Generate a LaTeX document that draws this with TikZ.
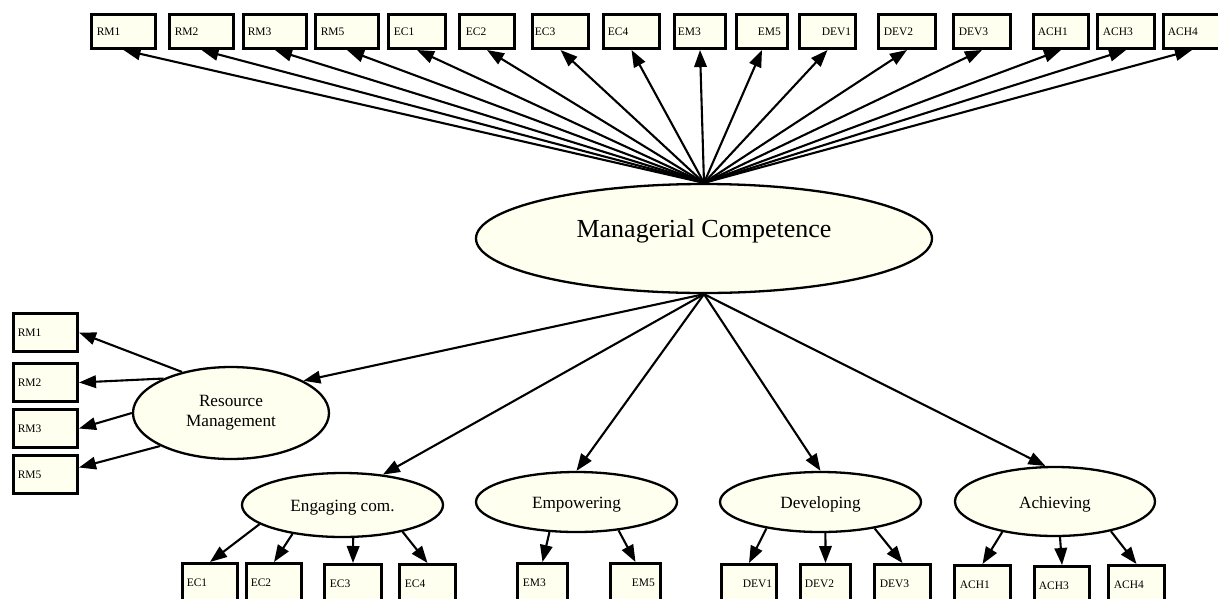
\documentclass[tikz,border=0pt]{standalone}
\usepackage{fontspec}
\setmainfont{Liberation Serif}
\usetikzlibrary{shapes.geometric,arrows.meta,calc}
\definecolor{cream}{RGB}{255,255,240}
\tikzset{
  box/.style={draw=black, line width=2.6pt, fill=cream, inner xsep=0pt, inner ysep=0pt,
    align=left, font=\fontsize{11.5}{13}\selectfont},
  pad/.style={execute at begin node={\hspace*{\dimexpr #1pt-1.5pt\relax}}},
  topbox/.style 2 args={box, text width={#1pt-2.6pt}, minimum height=34.4pt, pad={#2}},
  tallbox/.style 2 args={box, text width={#1pt-2.6pt}, minimum height=38.4pt, pad={#2}},
  ell/.style={ellipse, draw=black, line width=2.3pt, fill=cream, inner sep=0pt, align=center,
    font=\fontsize{17.2}{20}\selectfont},
  low/.style={text height=17.5pt, text depth=3.7pt},
  arr/.style={line width=2.1pt, -{Triangle[length=17pt,width=12.5pt]}}
}
\begin{document}
\begin{tikzpicture}[x=1pt,y=-1pt]
\useasboundingbox (0,0) rectangle (1218,598);
\fill[white] (0,0) rectangle (1218,598);
\clip (0,0) rectangle (1218,598);
% top row
\node[topbox={67}{7}]  (trm1)  at (123.5,31.5) {RM1};
\node[topbox={67}{7}]  (trm2)  at (201.5,31.5) {RM2};
\node[topbox={66}{6}]  (trm3)  at (275,31.5)   {RM3};
\node[topbox={66}{7}]  (trm5)  at (347,31.5)   {RM5};
\node[topbox={60}{7}]  (tec1)  at (417,31.5)   {EC1};
\node[topbox={58}{8}]  (tec2)  at (487,31.5)   {EC2};
\node[topbox={59}{4}]  (tec3)  at (560.5,31.5) {EC3};
\node[topbox={59}{6}]  (tec4)  at (631.5,31.5) {EC4};
\node[topbox={54}{5}]  (tem3)  at (700,31.5)   {EM3};
\node[topbox={54}{23}] (tem5)  at (762,31.5)   {EM5};
\node[topbox={59}{24}] (tdev1) at (827.5,31.5) {DEV1};
\node[topbox={60}{7}]  (tdev2) at (907,31.5)   {DEV2};
\node[topbox={60}{7}]  (tdev3) at (982,31.5)   {DEV3};
\node[topbox={58}{6}]  (tach1) at (1061,31.5)  {ACH1};
\node[topbox={60}{7}]  (tach3) at (1126,31.5)  {ACH3};
\node[topbox={60}{6}]  (tach4) at (1192,31.5)  {ACH4};
% main ellipse
\node[ell, minimum width=456pt, minimum height=109pt, text depth=20.8pt,
  font=\fontsize{26}{30}\selectfont] (mc) at (704,238.5) {Managerial Competence};
% sub ellipses
\node[ell, minimum width=196pt, minimum height=92pt] (rm)  at (231,413)    {Resource\\Management};
\node[ell, low, minimum width=201pt, minimum height=64pt] (eng) at (342.5,505)  {Engaging com.};
\node[ell, low, minimum width=201pt, minimum height=60pt] (emp) at (576.5,502)  {Empowering};
\node[ell, low, minimum width=201pt, minimum height=60pt] (dev) at (820.5,502)  {Developing};
\node[ell, low, minimum width=200pt, minimum height=69pt] (ach) at (1055,501.5) {Achieving};
% left boxes
\node[tallbox={67}{6}] (lrm1) at (45.5,332.5) {RM1};
\node[tallbox={67}{6}] (lrm2) at (45.5,382.5) {RM2};
\node[tallbox={67}{6}] (lrm3) at (45.5,428.5) {RM3};
\node[tallbox={67}{6}] (lrm5) at (45.5,474.5) {RM5};
% bottom boxes
\node[tallbox={58}{6}]  (bec1)  at (210,582.5)   {EC1};
\node[tallbox={58}{6}]  (bec2)  at (274,582.5)   {EC2};
\node[tallbox={60}{7}]  (bec3)  at (353,583.5)   {EC3};
\node[tallbox={59}{7}]  (bec4)  at (427.5,583.5) {EC4};
\node[tallbox={53}{7}]  (bem3)  at (542.5,582.5) {EM3};
\node[tallbox={53}{23}] (bem5)  at (635.5,582.5) {EM5};
\node[tallbox={58}{23}] (bdev1) at (749,583.5)   {DEV1};
\node[tallbox={53}{6}]  (bdev2) at (825.5,583.5) {DEV2};
\node[tallbox={59}{7}]  (bdev3) at (902.5,583.5) {DEV3};
\node[tallbox={59}{7}]  (bach1) at (982.5,584.5) {ACH1};
\node[tallbox={58}{6}]  (bach3) at (1062,585.5)  {ACH3};
\node[tallbox={59}{7}]  (bach4) at (1136.5,584.5) {ACH4};
% arrows to top row
\foreach \n in {trm1,trm2,trm3,trm5,tec1,tec2,tec3,tec4,tem3,tem5,tdev1,tdev2,tdev3,tach1,tach3,tach4}
  \draw[arr] (mc.north) -- (\n.south);
% arrows to sub factors
\draw[arr] (mc.south) -- (rm.24);
\draw[arr] (mc.south) -- (eng.37);
\draw[arr] (mc.south) -- (emp.north);
\draw[arr] (mc.south) -- (dev.north);
\draw[arr] (mc.south) -- (ach.105);
% resource management
\draw[arr] (rm.140.5) -- (lrm1.east);
\draw[arr] (rm.153.4) -- (lrm2.east);
\draw[arr] (rm.180) -- (lrm3.east);
\draw[arr] (rm.205.6) -- ($(lrm5.east)+(0,-7)$);
% engaging
\draw[arr] (eng.193) -- (bec1.north);
\draw[arr] (eng.210) -- (bec2.north);
\draw[arr] (eng.288) -- (bec3.north);
\draw[arr] (eng.336.6) -- (bec4.north);
% empowering
\draw[arr] (emp.228) -- (bem3.north);
\draw[arr] (emp.326) -- (bem5.north);
% developing
\draw[arr] (dev.206) -- (bdev1.north);
\draw[arr] (dev.279) -- (bdev2.north);
\draw[arr] (dev.334) -- (bdev3.north);
% achieving
\draw[arr] (ach.210) -- (bach1.north);
\draw[arr] (ach.278) -- (bach3.north);
\draw[arr] (ach.332) -- (bach4.north);
\end{tikzpicture}
\end{document}
